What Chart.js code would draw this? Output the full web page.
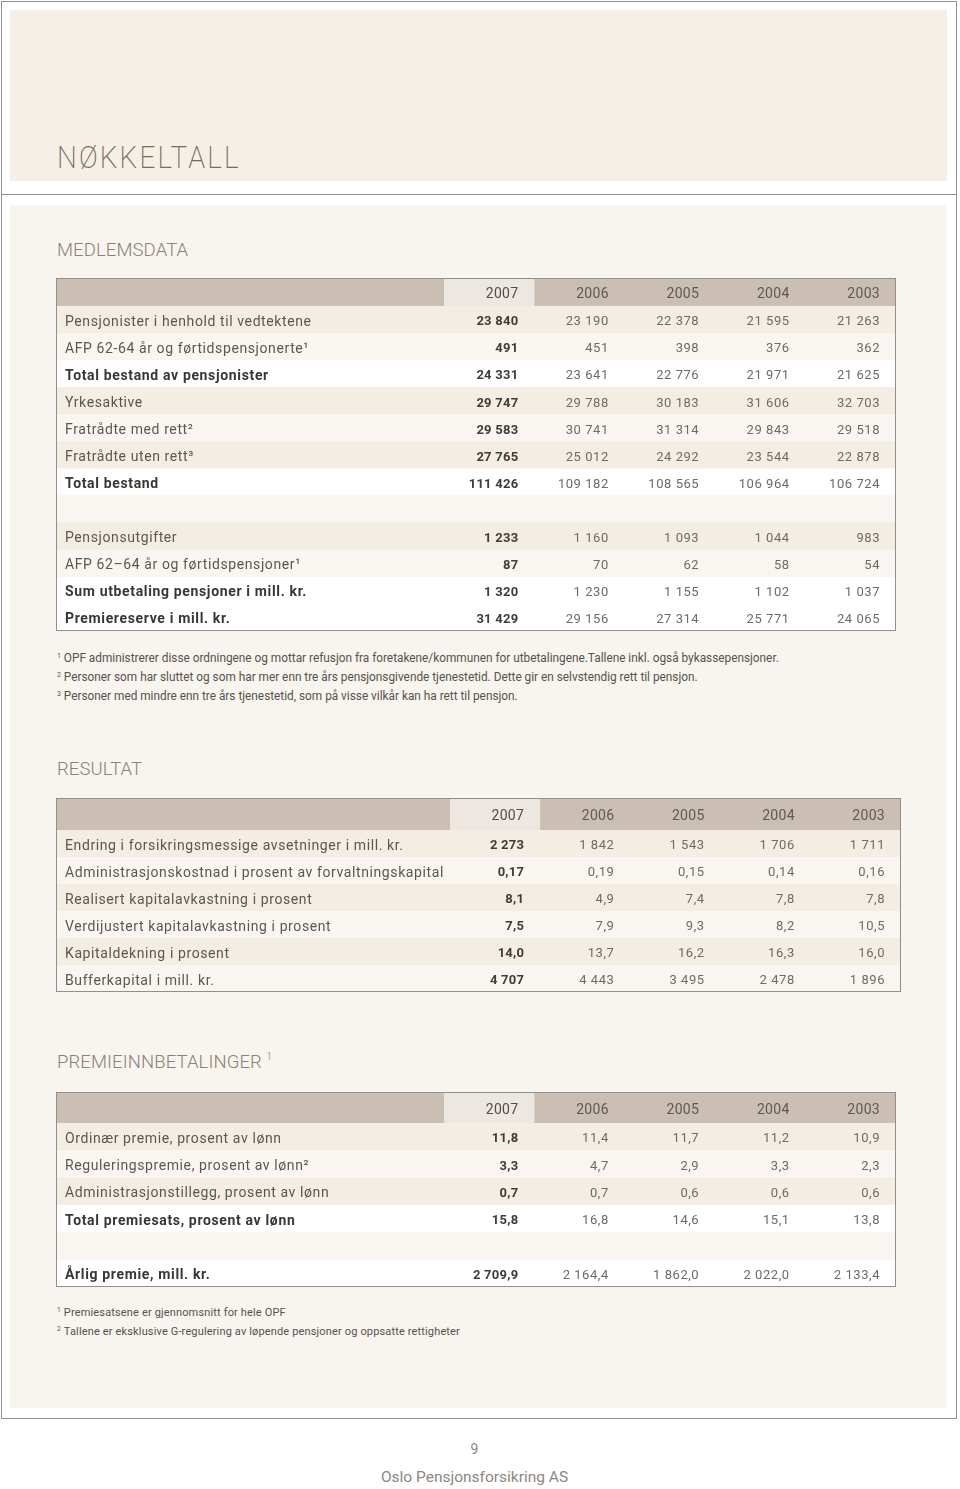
<!DOCTYPE html>
<html><head><meta charset="utf-8">
<script src="https://cdn.jsdelivr.net/npm/chart.js@4.4.0/dist/chart.umd.min.js"></script>
<style>
html,body{margin:0;padding:0;background:#fff;}
body{width:960px;height:1489px;position:relative;overflow:hidden;font-family:Roboto,"DejaVu Sans",sans-serif;}
.abs{position:absolute;}
#frame{left:1px;top:1px;width:954px;height:1416px;border:1px solid #8f8f8f;}
#sep{left:1px;top:194px;width:956px;height:1px;background:#8f8f8f;}
#hdr{left:10px;top:10px;width:937px;height:171px;background:#f5efe6;}
#panel{left:10px;top:205px;width:937px;height:1203px;background:#f8f4ef;}
.title{left:57px;font-weight:300;color:#8a8275;white-space:nowrap;line-height:1;}
#main{top:142px;font-size:31px;color:#776d60;letter-spacing:2.4px;transform:scaleX(0.9);transform-origin:left top;font-weight:200;}
.sec{font-size:18.5px;letter-spacing:0.1px;}
.fn{left:57px;white-space:nowrap;color:#57524c;}
.fnA{top:648px;font-size:12.5px;line-height:19px;transform:scaleX(0.945);transform-origin:left top;}
.fnB{top:1303px;font-size:11px;line-height:19px;letter-spacing:0.15px;}
.fn sup{font-size:0.6em;vertical-align:0.55em;line-height:0;margin-right:3px;}
.foot{left:0;width:949px;text-align:center;color:#8d877f;white-space:nowrap;}
canvas{position:absolute;}
</style>
</head>
<body>
<div id="frame" class="abs"></div>
<div id="sep" class="abs"></div>
<div id="hdr" class="abs"></div>
<div id="panel" class="abs"></div>
<div id="main" class="abs title">NØKKELTALL</div>
<div class="abs title sec" style="top:241px">MEDLEMSDATA</div>
<div class="abs title sec" style="top:760px">RESULTAT</div>
<div class="abs title sec" style="top:1053px">PREMIEINNBETALINGER <sup style="font-size:10px;vertical-align:8px;line-height:0">1</sup></div>

<canvas id="t1" width="840" height="353" style="left:56px;top:278px"></canvas>
<canvas id="t2" width="845" height="194" style="left:56px;top:798px"></canvas>
<canvas id="t3" width="840" height="195" style="left:56px;top:1092px"></canvas>

<div class="abs fn fnA">
<div><sup>1</sup>OPF administrerer disse ordningene og mottar refusjon fra foretakene/kommunen for utbetalingene.Tallene inkl. også bykassepensjoner.</div>
<div><sup>2</sup>Personer som har sluttet og som har mer enn tre års pensjonsgivende tjenestetid. Dette gir en selvstendig rett til pensjon.</div>
<div><sup>3</sup>Personer med mindre enn tre års tjenestetid, som på visse vilkår kan ha rett til pensjon.</div>
</div>
<div class="abs fn fnB">
<div><sup>1</sup>Premiesatsene er gjennomsnitt for hele OPF</div>
<div><sup>2</sup>Tallene er eksklusive G-regulering av løpende pensjoner og oppsatte rettigheter</div>
</div>

<div class="abs foot" style="top:1439px;font-size:14px;line-height:20px;">9</div>
<div class="abs foot" style="top:1467px;font-size:15.5px;line-height:20px;">Oslo Pensjonsforsikring AS</div>

<script>
// ---------- DATA ----------
const years = ['2007', '2006', '2005', '2004', '2003'];

// MEDLEMSDATA
const medlemRows = [
  'Pensjonister i henhold til vedtektene',
  'AFP 62-64 år og førtidspensjonerte¹',
  'Total bestand av pensjonister',
  'Yrkesaktive',
  'Fratrådte med rett²',
  'Fratrådte uten rett³',
  'Total bestand',
  '',
  'Pensjonsutgifter',
  'AFP 62–64 år og førtidspensjoner¹',
  'Sum utbetaling pensjoner i mill. kr.',
  'Premiereserve i mill. kr.'
];
const medlem2007 = [23840, 491, 24331, 29747, 29583, 27765, 111426, null, 1233, 87, 1320, 31429];
const medlem2006 = [23190, 451, 23641, 29788, 30741, 25012, 109182, null, 1160, 70, 1230, 29156];
const medlem2005 = [22378, 398, 22776, 30183, 31314, 24292, 108565, null, 1093, 62, 1155, 27314];
const medlem2004 = [21595, 376, 21971, 31606, 29843, 23544, 106964, null, 1044, 58, 1102, 25771];
const medlem2003 = [21263, 362, 21625, 32703, 29518, 22878, 106724, null, 983, 54, 1037, 24065];
const medlemDecimals = [0, 0, 0, 0, 0, 0, 0, 0, 0, 0, 0, 0];

// RESULTAT
const resultatRows = [
  'Endring i forsikringsmessige avsetninger i mill. kr.',
  'Administrasjonskostnad i prosent av forvaltningskapital',
  'Realisert kapitalavkastning i prosent',
  'Verdijustert kapitalavkastning i prosent',
  'Kapitaldekning i prosent',
  'Bufferkapital i mill. kr.'
];
const resultat2007 = [2273, 0.17, 8.1, 7.5, 14.0, 4707];
const resultat2006 = [1842, 0.19, 4.9, 7.9, 13.7, 4443];
const resultat2005 = [1543, 0.15, 7.4, 9.3, 16.2, 3495];
const resultat2004 = [1706, 0.14, 7.8, 8.2, 16.3, 2478];
const resultat2003 = [1711, 0.16, 7.8, 10.5, 16.0, 1896];
const resultatDecimals = [0, 2, 1, 1, 1, 0];

// PREMIEINNBETALINGER
const premieRows = [
  'Ordinær premie, prosent av lønn',
  'Reguleringspremie, prosent av lønn²',
  'Administrasjonstillegg, prosent av lønn',
  'Total premiesats, prosent av lønn',
  '',
  'Årlig premie, mill. kr.'
];
const premie2007 = [11.8, 3.3, 0.7, 15.8, null, 2709.9];
const premie2006 = [11.4, 4.7, 0.7, 16.8, null, 2164.4];
const premie2005 = [11.7, 2.9, 0.6, 14.6, null, 1862.0];
const premie2004 = [11.2, 3.3, 0.6, 15.1, null, 2022.0];
const premie2003 = [10.9, 2.3, 0.6, 13.8, null, 2133.4];
const premieDecimals = [1, 1, 1, 1, 1, 1];

// ---------- STYLE ----------
const FILLS = { b: '#f4ede3', l: '#f9f6f1', w: '#ffffff', p: '#f9f6f1' };
const HEADER_BG = '#cbbfb3';
const HEADER_HI = '#ece7e1';
const BORDER = '#8f8f8f';
const FONT = 'Roboto, "DejaVu Sans", sans-serif';

function fmt(v, d) {
  const s = Math.abs(v).toFixed(d);
  let [i, f] = s.split('.');
  i = i.replace(/\B(?=(\d{3})+(?!\d))/g, ' ');
  return (v < 0 ? '-' : '') + i + (f ? ',' + f : '');
}

const tablePlugin = {
  id: 'tableCells',
  beforeDatasetsDraw(chart, args, o) {
    const { ctx, width, height, chartArea, scales: { x, y } } = chart;
    const bx = x.getPixelForValue(1) - x.getPixelForValue(0);
    const by = y.getPixelForValue(1) - y.getPixelForValue(0);
    ctx.save();
    ctx.fillStyle = HEADER_BG;
    ctx.fillRect(0, 0, width, chartArea.top);
    ctx.fillStyle = HEADER_HI;
    ctx.fillRect(x.getPixelForValue(0) - bx / 2, 0, bx, chartArea.top);
    o.fills.forEach((f, i) => {
      const cy = y.getPixelForValue(i);
      ctx.fillStyle = FILLS[f];
      ctx.fillRect(0, cy - by / 2, width, by);
    });
    ctx.restore();
  },
  afterDraw(chart, args, o) {
    const { ctx, width, height, chartArea, scales: { x, y } } = chart;
    const bx = x.getPixelForValue(1) - x.getPixelForValue(0);
    ctx.save();
    ctx.textBaseline = 'middle';
    // header years
    ctx.textAlign = 'right';
    ctx.font = '14px ' + FONT;
    ctx.letterSpacing = '0.3px';
    x.getLabels().forEach((lab, j) => {
      ctx.fillStyle = j === 0 ? '#524d48' : '#5f5954';
      ctx.fillText(lab, x.getPixelForValue(j) + bx / 2 - 16, chartArea.top / 2 + 2.5);
    });
    // row labels
    ctx.textAlign = 'left';
    y.getLabels().forEach((lab, i) => {
      const bold = o.bold.includes(i);
      ctx.font = (bold ? 'bold ' : '') + '14px ' + FONT;
      ctx.letterSpacing = bold ? '0.65px' : '0.6px';
      ctx.fillStyle = bold ? '#3a3632' : '#5c5650';
      ctx.fillText(lab, 9, y.getPixelForValue(i) + 2.5);
    });
    // values
    ctx.textAlign = 'right';
    chart.data.datasets.forEach((ds, j) => {
      const meta = chart.getDatasetMeta(j);
      ctx.font = (j === 0 ? 'bold ' : '') + '13px ' + FONT;
      ctx.letterSpacing = j === 0 ? '0.25px' : '0.55px';
      ctx.fillStyle = j === 0 ? '#403c38' : '#6f6a64';
      meta.data.forEach((el, k) => {
        const raw = ds.data[k];
        ctx.fillText(fmt(raw.v, o.decimals[raw.r]), el.x + bx / 2 - 16, el.y + 2.5);
      });
    });
    // border
    ctx.strokeStyle = BORDER;
    ctx.lineWidth = 1;
    ctx.strokeRect(0.5, 0.5, width - 1, height - 1);
    ctx.restore();
  }
};

function makeTable(id, rows, cols, decimals, padLeft, padTop, fills, bold) {
  const datasets = years.map((yr, j) => ({
    label: yr,
    data: rows.map((r, i) => cols[j][i] == null ? null : { x: yr, y: r, v: cols[j][i], r: i }).filter(Boolean),
    pointRadius: 0, pointHoverRadius: 0, showLine: false
  }));
  return new Chart(document.getElementById(id), {
    type: 'scatter',
    data: { datasets },
    options: {
      responsive: false, animation: false, events: [],
      layout: { padding: { left: padLeft, top: padTop, right: 0, bottom: 0 } },
      plugins: {
        legend: { display: false }, tooltip: { enabled: false },
        tableCells: { fills, bold, decimals }
      },
      scales: {
        x: { type: 'category', labels: years, offset: true, display: false },
        y: { type: 'category', labels: rows, offset: true, display: false }
      }
    },
    plugins: [tablePlugin]
  });
}

makeTable('t1', medlemRows, [medlem2007, medlem2006, medlem2005, medlem2004, medlem2003], medlemDecimals,
  388, 28, ['b','l','w','b','l','b','w','p','b','l','w','w'], [2, 6, 10, 11]);
makeTable('t2', resultatRows, [resultat2007, resultat2006, resultat2005, resultat2004, resultat2003], resultatDecimals,
  394, 32, ['b','l','b','l','b','l'], []);
makeTable('t3', premieRows, [premie2007, premie2006, premie2005, premie2004, premie2003], premieDecimals,
  388, 31, ['b','l','b','w','l','w'], [3, 5]);
</script>
</body></html>
